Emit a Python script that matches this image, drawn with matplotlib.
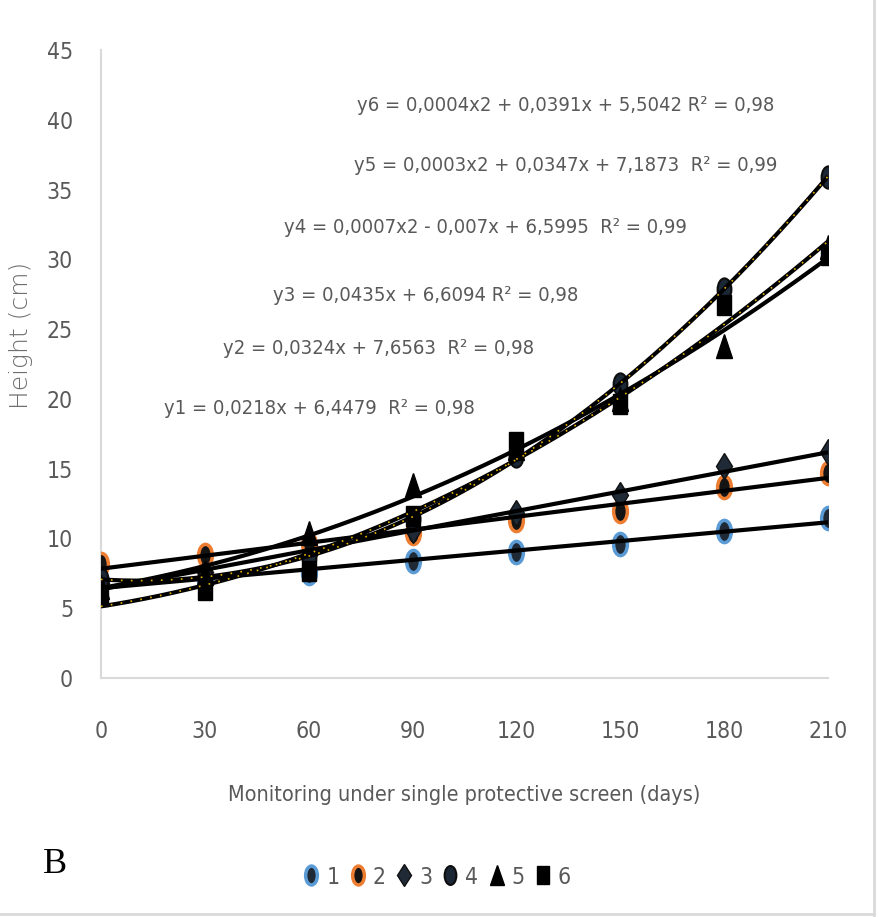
"""Plant height under a single protective screen, six treatments with trendlines"""
import matplotlib
matplotlib.use("Agg")
import matplotlib.pyplot as plt
import numpy as np
from matplotlib.lines import Line2D
from matplotlib.markers import MarkerStyle
from matplotlib.transforms import Affine2D

# monitoring days
days = [0, 30, 60, 90, 120, 150, 180, 210]

# heights (cm), one list per treatment
h1 = [6.9, 7.0, 7.5, 8.4, 9.0, 9.6, 10.5, 11.5]
h2 = [8.2, 8.8, 9.6, 10.4, 11.3, 12.0, 13.7, 14.7]
h3 = [6.8, 7.6, 8.8, 10.6, 11.8, 13.1, 15.2, 16.2]
h4 = [7.1, 7.3, 8.6, 11.4, 15.9, 21.1, 27.9, 35.9]
h5 = [6.5, 7.5, 10.4, 13.8, 16.5, 20.0, 23.8, 30.9]
h6 = [5.9, 6.3, 7.7, 11.6, 16.9, 19.6, 26.7, 30.3]

series_names = ["1", "2", "3", "4", "5", "6"]
trend_degree = [1, 1, 1, 2, 2, 2]

equations = [
    "y1 = 0,0218x + 6,4479  R² = 0,98",
    "y2 = 0,0324x + 7,6563  R² = 0,98",
    "y3 = 0,0435x + 6,6094 R² = 0,98",
    "y4 = 0,0007x2 - 0,007x + 6,5995  R² = 0,99",
    "y5 = 0,0003x2 + 0,0347x + 7,1873  R² = 0,99",
    "y6 = 0,0004x2 + 0,0391x + 5,5042 R² = 0,98",
]

yticks = [0, 5, 10, 15, 20, 25, 30, 35, 40, 45]

TEXT_GRAY = "#595959"
AXIS_GRAY = "#d9d9d9"


def tall(marker, sx):
    """marker squeezed horizontally, as in the stretched original"""
    return MarkerStyle(marker, transform=Affine2D().scale(sx, 1.0))


def main():
    """draw the chart and save it"""
    plt.rcParams["font.family"] = ["DejaVu Sans"]
    plt.rcParams["font.stretch"] = "condensed"

    fig = plt.figure(figsize=(8.85, 9.17), dpi=100)
    ax = fig.add_axes([0.114, 0.2606, 0.8216, 0.6849])

    heights = [h1, h2, h3, h4, h5, h6]
    styles = [
        dict(marker=tall("o", 0.62), ms=16, mfc="#1f2a36", mec="#5b9bd5", mew=2.5),
        dict(marker=tall("o", 0.62), ms=16, mfc="#141414", mec="#ed7d31", mew=2.5),
        dict(marker=tall("D", 0.62), ms=13, mfc="#1f2a36", mec="#111111", mew=1),
        dict(marker=tall("o", 0.62), ms=16, mfc="#1c2735", mec="#0d0d0d", mew=1.5),
        dict(marker=tall("^", 0.68), ms=17, mfc="black", mec="black", mew=1),
        dict(marker=tall("s", 0.72), ms=15, mfc="black", mec="black", mew=1),
    ]

    x = np.array(days, dtype=float)
    for name, h, st in zip(series_names, heights, styles):
        ax.plot(x, h, linestyle="none", label=name, zorder=3, **st)

    # trendlines on top of the markers
    xs = np.linspace(0, 210, 200)
    for i, (h, deg) in enumerate(zip(heights, trend_degree)):
        coef = np.polyfit(x, h, deg)
        ys = np.polyval(coef, xs)
        ax.plot(xs, ys, color="black", lw=3, zorder=4, solid_capstyle="butt")
        if i in (3, 5):
            ax.plot(xs, ys, color="#e8b400", lw=1.2, ls=(0, (1, 5)), zorder=5)

    # equation labels (positions in data units of the plot area)
    eq_pos = [(18.2, 19.3), (35.2, 23.6), (49.6, 27.4),
              (52.8, 32.3), (73.0, 36.75), (74.1, 41.0)]
    for text, (tx, ty) in zip(equations, eq_pos):
        ax.text(tx, ty, text, fontsize=14.5, color=TEXT_GRAY,
                ha="left", va="center", zorder=6)

    ax.set_xlim(0, 210)
    ax.set_ylim(0, 45)
    ax.set_xticks(days)
    ax.set_yticks(yticks)
    ax.tick_params(axis="both", length=0, labelsize=16.5, colors=TEXT_GRAY)
    ax.tick_params(axis="x", pad=30)
    ax.tick_params(axis="y", pad=20)

    for side in ("top", "right"):
        ax.spines[side].set_visible(False)
    for side in ("left", "bottom"):
        ax.spines[side].set_color(AXIS_GRAY)
        ax.spines[side].set_linewidth(1.5)

    ax.set_xlabel("Monitoring under single protective screen (days)",
                  fontsize=15.5, color=TEXT_GRAY)
    ax.xaxis.set_label_coords(0.5, -0.17)
    ax.set_ylabel("Height (cm)", fontsize=18, color="#6e6e6e",
                  fontstretch="normal", fontweight="light")
    ax.yaxis.set_label_coords(-0.093, 0.545)

    fig.text(0.048, 0.057, "B", fontsize=26, family="Liberation Serif",
             color="black", ha="left", va="center")

    fig.legend(loc="center", bbox_to_anchor=(0.494, 0.0436), ncol=6,
               frameon=False, fontsize=16.5, labelcolor=TEXT_GRAY,
               handlelength=0.7, handletextpad=0.3, columnspacing=0.45,
               markerscale=0.85)

    # thin grey frame edges on the right and bottom of the picture
    fig.add_artist(Line2D([0.9875, 0.9875], [0.0, 1.0], color=AXIS_GRAY,
                          lw=2, transform=fig.transFigure))
    fig.add_artist(Line2D([0.0, 0.9875], [0.003, 0.003], color=AXIS_GRAY,
                          lw=2, transform=fig.transFigure))

    fig.savefig("out.png", dpi=100, facecolor="white")


if __name__ == "__main__":
    main()
